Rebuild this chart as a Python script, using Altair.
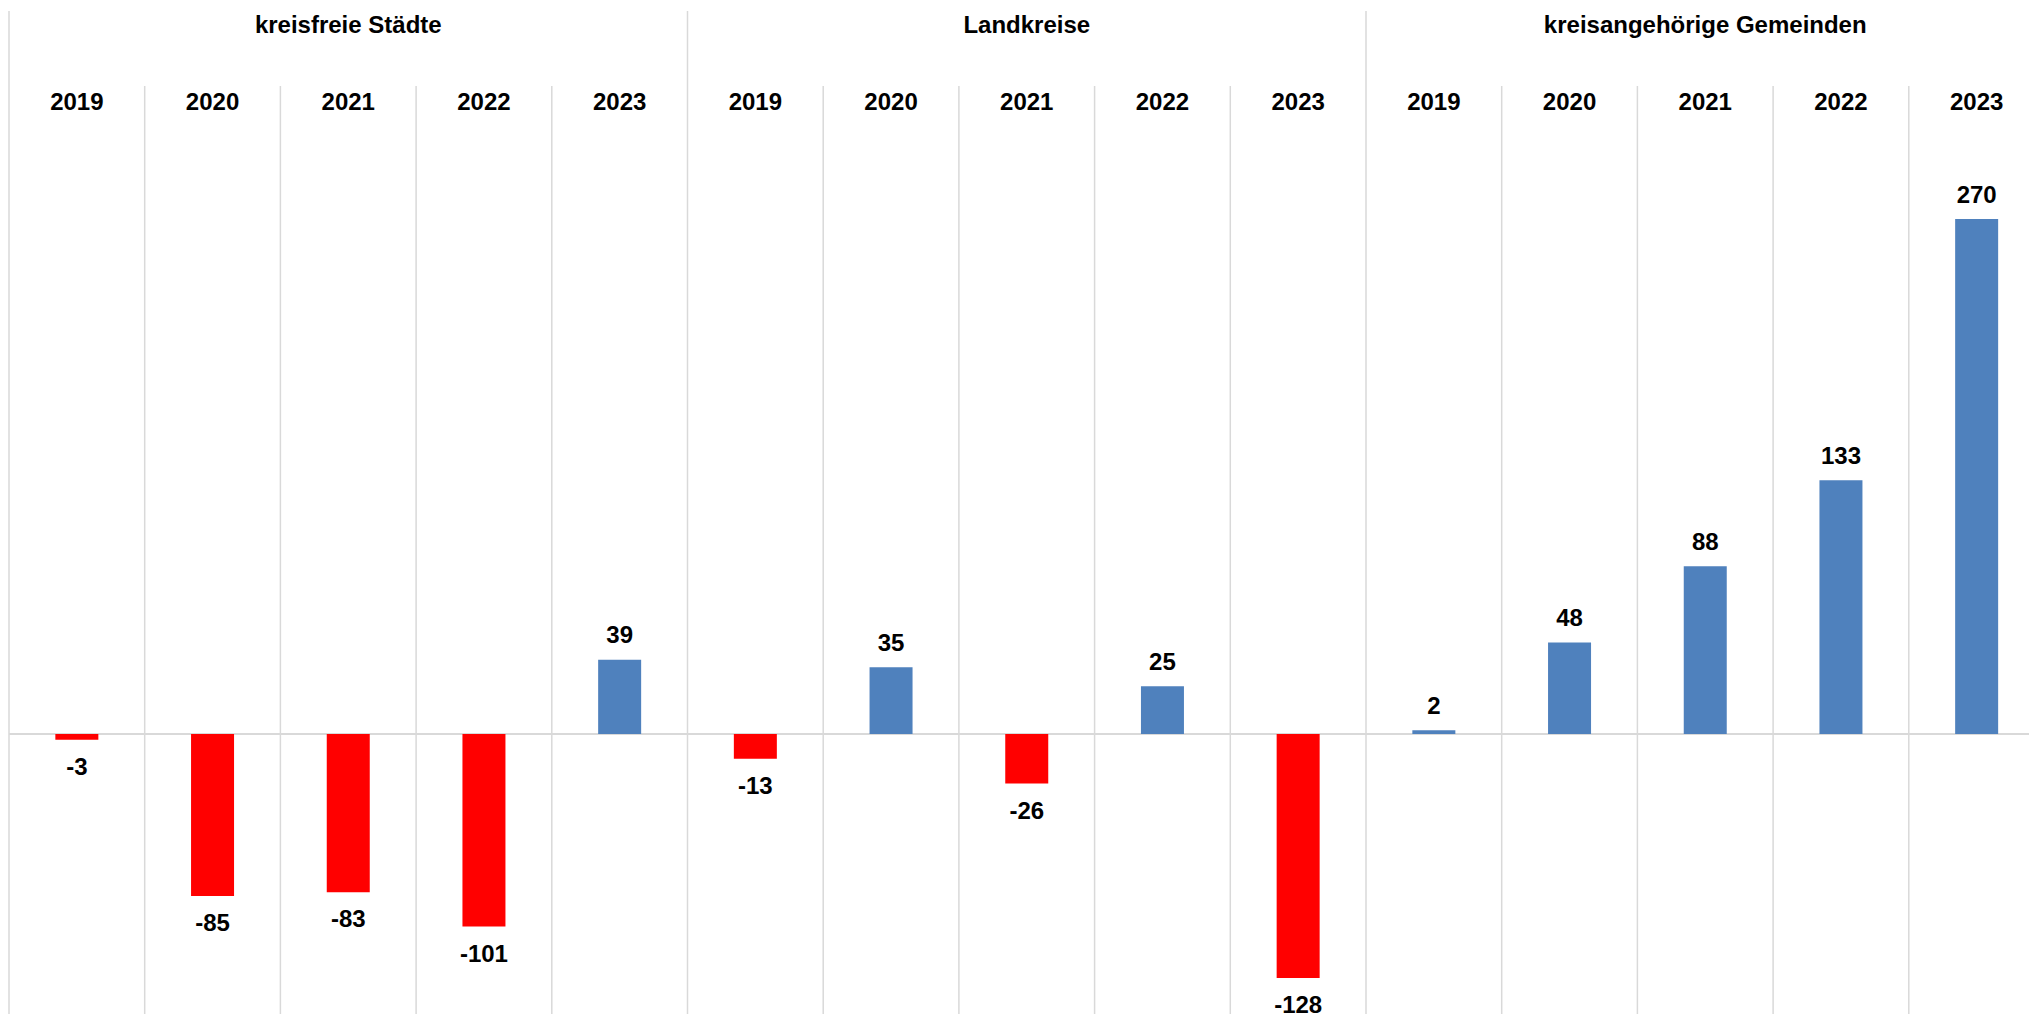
import altair as alt
import pandas as pd

# Change per year, grouped by type of local authority
groups = ["kreisfreie Städte", "Landkreise", "kreisangehörige Gemeinden"]
years = ["2019", "2020", "2021", "2022", "2023"]
kreisfreie_staedte = [-3, -85, -83, -101, 39]
landkreise = [-13, 35, -26, 25, -128]
kreisangehoerige_gemeinden = [2, 48, 88, 133, 270]

series = [kreisfreie_staedte, landkreise, kreisangehoerige_gemeinden]

NEG_COLOR = "#FF0000"
POS_COLOR = "#4F81BD"
GRID_COLOR = "#D9D9D9"
FONT = "Liberation Sans"

COL_W = 135.7          # pixel width of one year column
W = 2020               # plot width; the last column runs past the right edge
H = 1014
n_cols = len(groups) * len(years)
x_max = W / COL_W

rows = []
for gi, (g, vals) in enumerate(zip(groups, series)):
    for yi, (yr, v) in enumerate(zip(years, vals)):
        rows.append({
            "group": g,
            "year": yr,
            "value": v,
            "label": str(v),
            "pos": gi * len(years) + yi + 0.5,
            "color": POS_COLOR if v >= 0 else NEG_COLOR,
        })
df = pd.DataFrame(rows)

group_df = pd.DataFrame({
    "group": groups,
    "center": [gi * len(years) + len(years) / 2 for gi in range(len(groups))],
})
col_lines = pd.DataFrame({"x": [i for i in range(n_cols) if i % len(years) != 0]})
group_lines = pd.DataFrame({"x": [i for i in range(n_cols) if i % len(years) == 0]})

# zero line sits at y = 734 px, 1.907 px per unit
PX_PER_UNIT = 1.907
y_top = 734 / PX_PER_UNIT
y_bottom = -(H - 734) / PX_PER_UNIT

x_scale = alt.Scale(domain=[0, x_max], nice=False, zero=False, padding=0)
y_scale = alt.Scale(domain=[y_bottom, y_top], nice=False, zero=False)
no_axis = None

base = alt.Chart(df)

col_rules = alt.Chart(col_lines).mark_rule(color=GRID_COLOR, strokeWidth=1.5).encode(
    x=alt.X("x:Q", scale=x_scale, axis=no_axis),
    y=alt.value(86),
    y2=alt.value(H),
)
grp_rules = alt.Chart(group_lines).mark_rule(color=GRID_COLOR, strokeWidth=1.5).encode(
    x=alt.X("x:Q", scale=x_scale, axis=no_axis),
    y=alt.value(11),
    y2=alt.value(H),
)
zero_rule = alt.Chart(group_df).mark_rule(color=GRID_COLOR, strokeWidth=1.5).encode(
    y=alt.Y("z:Q", scale=y_scale, axis=no_axis),
    x=alt.value(0),
    x2=alt.value(W),
).transform_calculate(z="0")

bars = base.mark_bar(size=43).encode(
    x=alt.X("pos:Q", scale=x_scale, axis=no_axis),
    y=alt.Y("value:Q", scale=y_scale, axis=no_axis),
    y2=alt.datum(0),
    color=alt.Color("color:N", scale=None),
)

text_style = dict(font=FONT, fontSize=24, fontWeight="bold", color="#000000",
                  align="center", baseline="alphabetic")

pos_labels = base.transform_filter("datum.value >= 0").mark_text(dy=-16.5, **text_style).encode(
    x=alt.X("pos:Q", scale=x_scale, axis=no_axis),
    y=alt.Y("value:Q", scale=y_scale, axis=no_axis),
    text="label:N",
)
neg_labels = base.transform_filter("datum.value < 0").mark_text(dy=35, **text_style).encode(
    x=alt.X("pos:Q", scale=x_scale, axis=no_axis),
    y=alt.Y("value:Q", scale=y_scale, axis=no_axis),
    text="label:N",
)

year_labels = base.mark_text(**text_style).encode(
    x=alt.X("pos:Q", scale=x_scale, axis=no_axis),
    y=alt.value(110),
    text="year:N",
)
group_labels = alt.Chart(group_df).mark_text(**text_style).encode(
    x=alt.X("center:Q", scale=x_scale, axis=no_axis),
    y=alt.value(33),
    text="group:N",
)

chart = alt.layer(
    col_rules, grp_rules, zero_rule, bars, pos_labels, neg_labels, year_labels, group_labels
).properties(
    width=W,
    height=H,
    autosize=alt.AutoSizeParams(type="none"),
    padding={"left": 9, "top": 0, "right": 0, "bottom": 0},
    background="white",
).configure_view(stroke=None)

chart.save("out.html", embed_options={"renderer": "svg", "actions": False})
